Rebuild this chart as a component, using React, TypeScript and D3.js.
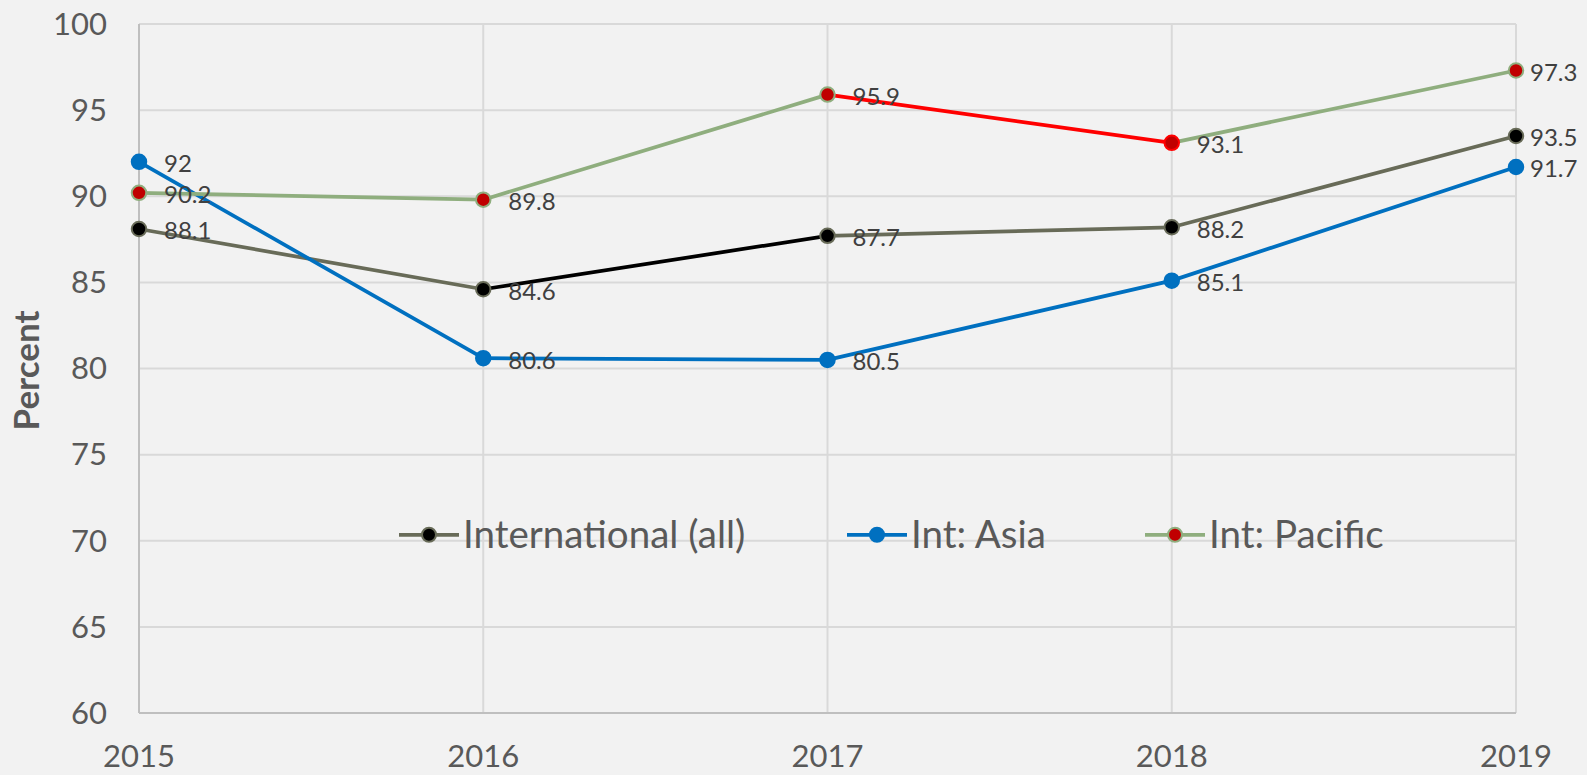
import * as d3 from 'd3';
import React, { useEffect, useRef } from 'react';

const years = ['2015', '2016', '2017', '2018', '2019'];
const intAll = [88.1, 84.6, 87.7, 88.2, 93.5];
const intAsia = [92, 80.6, 80.5, 85.1, 91.7];
const intPacific = [90.2, 89.8, 95.9, 93.1, 97.3];
const yTicks = [60, 65, 70, 75, 80, 85, 90, 95, 100];
const seriesNames = ['International (all)', 'Int: Asia', 'Int: Pacific'];

const FONT = 'Lato, "Open Sans", sans-serif';

function Chart() {
  const svgRef = useRef<SVGSVGElement>(null);

  useEffect(() => {
    const W = 1587;
    const H = 775;
    const margin = { top: 24, right: 71, bottom: 62, left: 139 };
    const width = W - margin.left - margin.right;
    const height = H - margin.top - margin.bottom;

    const root = d3.select(svgRef.current);
    root.selectAll('*').remove();
    root.attr('width', W).attr('height', H);

    root.append('rect').attr('width', W).attr('height', H).attr('fill', '#f2f2f2');

    const svg = root.append('g').attr('transform', `translate(${margin.left},${margin.top})`);

    const xScale = d3.scalePoint().domain(years).range([0, width]);
    const yScale = d3.scaleLinear().domain([60, 100]).range([height, 0]);

    // gridlines
    svg.append('g')
      .selectAll('line')
      .data(yTicks.filter(t => t > 60))
      .join('line')
      .attr('x1', 0).attr('x2', width)
      .attr('y1', d => yScale(d)).attr('y2', d => yScale(d))
      .attr('stroke', '#d9d9d9').attr('stroke-width', 2);

    svg.append('g')
      .selectAll('line')
      .data(years.slice(1))
      .join('line')
      .attr('x1', d => xScale(d)!).attr('x2', d => xScale(d)!)
      .attr('y1', 0).attr('y2', height)
      .attr('stroke', '#d9d9d9').attr('stroke-width', 2);

    // axis lines
    svg.append('line').attr('x1', 0).attr('x2', 0).attr('y1', 0).attr('y2', height)
      .attr('stroke', '#bfbfbf').attr('stroke-width', 2);
    svg.append('line').attr('x1', 0).attr('x2', width).attr('y1', height).attr('y2', height)
      .attr('stroke', '#bfbfbf').attr('stroke-width', 2);

    // y tick labels
    svg.append('g')
      .selectAll('text')
      .data(yTicks)
      .join('text')
      .attr('x', -32)
      .attr('y', d => yScale(d))
      .attr('dy', '0.35em')
      .attr('text-anchor', 'end')
      .attr('font-family', FONT)
      .attr('font-size', 31)
      .attr('fill', '#595959')
      .text(d => d);

    // x tick labels
    svg.append('g')
      .selectAll('text')
      .data(years)
      .join('text')
      .attr('x', d => xScale(d)!)
      .attr('y', height + 54)
      .attr('text-anchor', 'middle')
      .attr('font-family', FONT)
      .attr('font-size', 31)
      .attr('fill', '#595959')
      .text(d => d);

    // y axis title
    root.append('text')
      .attr('transform', `translate(39,${margin.top + height / 2 + 2}) rotate(-90)`)
      .attr('text-anchor', 'middle')
      .attr('font-family', FONT)
      .attr('font-weight', 'bold')
      .attr('font-size', 35)
      .attr('fill', '#595959')
      .text('Percent');

    const series = [
      { values: intAll, line: '#686b58', hiLine: '#000000', hiSeg: 1, fill: '#000000', stroke: '#686b58', hiStroke: '#686b58' },
      { values: intAsia, line: '#0070c0', hiLine: '#0070c0', hiSeg: -1, fill: '#0070c0', stroke: '#0070c0', hiStroke: '#0070c0' },
      { values: intPacific, line: '#8fae7e', hiLine: '#ff0000', hiSeg: 2, fill: '#c00000', stroke: '#8fae7e', hiStroke: '#ff0000' },
    ];

    series.forEach(s => {
      const g = svg.append('g');
      s.values.slice(1).forEach((v, i) => {
        g.append('path')
          .attr('d', d3.line<[number, number]>()([
            [xScale(years[i])!, yScale(s.values[i])],
            [xScale(years[i + 1])!, yScale(v)],
          ]))
          .attr('fill', 'none')
          .attr('stroke', i === s.hiSeg ? s.hiLine : s.line)
          .attr('stroke-width', 3.75)
          .attr('stroke-linecap', 'round');
      });
    });

    series.forEach(s => {
      svg.append('g')
        .selectAll('circle')
        .data(s.values)
        .join('circle')
        .attr('cx', (_, i) => xScale(years[i])!)
        .attr('cy', d => yScale(d))
        .attr('r', 7.25)
        .attr('fill', s.fill)
        .attr('stroke', (_, i) => (i === s.hiSeg + 1 ? s.hiStroke : s.stroke))
        .attr('stroke-width', 2);
    });

    // data labels (last column sits closer, as Excel keeps them inside)
    const last = years.length - 1;
    series.forEach(s => {
      svg.append('g')
        .selectAll('text')
        .data(s.values)
        .join('text')
        .attr('x', (_, i) => xScale(years[i])! + (i === last ? 14 : 25))
        .attr('y', d => yScale(d) + 2)
        .attr('dy', '0.35em')
        .attr('font-family', FONT)
        .attr('font-size', 24)
        .attr('fill', '#404040')
        .text(d => d);
    });

    // legend
    const legendY = margin.top + yScale(70) - 6;
    const legendX = [399, 847, 1145];
    seriesNames.forEach((name, i) => {
      const s = series[i];
      const g = root.append('g').attr('transform', `translate(${legendX[i]},${legendY})`);
      g.append('line').attr('x1', 0).attr('x2', 60).attr('y1', 0).attr('y2', 0)
        .attr('stroke', s.line).attr('stroke-width', 3.75);
      g.append('circle').attr('cx', 30).attr('cy', 0).attr('r', 7)
        .attr('fill', s.fill).attr('stroke', s.stroke).attr('stroke-width', 2);
      g.append('text')
        .attr('x', 64)
        .attr('dy', '0.35em')
        .attr('font-family', FONT)
        .attr('font-size', 38.5)
        .attr('fill', '#595959')
        .text(name);
    });
  }, []);

  return <svg ref={svgRef} style={{ position: 'absolute', left: 0, top: 0, display: 'block' }} />;
}

export default function App() {
  return <Chart />;
}
